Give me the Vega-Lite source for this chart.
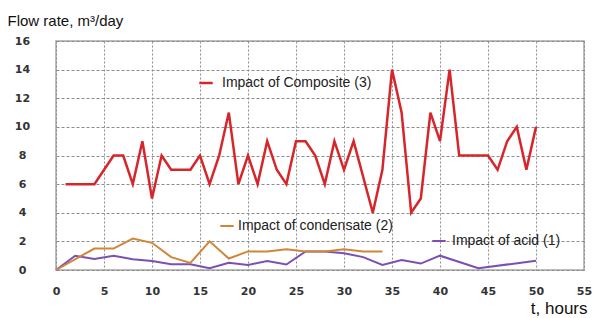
{
  "$schema": "https://vega.github.io/schema/vega-lite/v6.json",
  "width": 528,
  "height": 229,
  "autosize": {"type": "none"},
  "padding": {"left": 56, "top": 41, "right": 9, "bottom": 48},
  "background": "white",
  "config": {
    "view": {"stroke": "#a8a8a8", "strokeWidth": 1.5},
    "axis": {
      "domain": false,
      "ticks": false,
      "labelFlush": false,
      "labelFont": "DejaVu Sans",
      "labelFontWeight": "bold",
      "labelFontSize": 11,
      "labelColor": "#333333",
      "gridColor": "#8c8c8c",
      "gridWidth": 1
    }
  },
  "data": {
    "values": [
      {"series": "Impact of Composite (3)", "t": 1, "v": 6},
      {"series": "Impact of Composite (3)", "t": 4, "v": 6},
      {"series": "Impact of Composite (3)", "t": 6, "v": 8},
      {"series": "Impact of Composite (3)", "t": 7, "v": 8},
      {"series": "Impact of Composite (3)", "t": 8, "v": 6},
      {"series": "Impact of Composite (3)", "t": 9, "v": 9},
      {"series": "Impact of Composite (3)", "t": 10, "v": 5},
      {"series": "Impact of Composite (3)", "t": 11, "v": 8},
      {"series": "Impact of Composite (3)", "t": 12, "v": 7},
      {"series": "Impact of Composite (3)", "t": 14, "v": 7},
      {"series": "Impact of Composite (3)", "t": 15, "v": 8},
      {"series": "Impact of Composite (3)", "t": 16, "v": 6},
      {"series": "Impact of Composite (3)", "t": 17, "v": 8},
      {"series": "Impact of Composite (3)", "t": 18, "v": 11},
      {"series": "Impact of Composite (3)", "t": 19, "v": 6},
      {"series": "Impact of Composite (3)", "t": 20, "v": 8},
      {"series": "Impact of Composite (3)", "t": 21, "v": 6},
      {"series": "Impact of Composite (3)", "t": 22, "v": 9},
      {"series": "Impact of Composite (3)", "t": 23, "v": 7},
      {"series": "Impact of Composite (3)", "t": 24, "v": 6},
      {"series": "Impact of Composite (3)", "t": 25, "v": 9},
      {"series": "Impact of Composite (3)", "t": 26, "v": 9},
      {"series": "Impact of Composite (3)", "t": 27, "v": 8},
      {"series": "Impact of Composite (3)", "t": 28, "v": 6},
      {"series": "Impact of Composite (3)", "t": 29, "v": 9},
      {"series": "Impact of Composite (3)", "t": 30, "v": 7},
      {"series": "Impact of Composite (3)", "t": 31, "v": 9},
      {"series": "Impact of Composite (3)", "t": 33, "v": 4},
      {"series": "Impact of Composite (3)", "t": 34, "v": 7},
      {"series": "Impact of Composite (3)", "t": 35, "v": 14},
      {"series": "Impact of Composite (3)", "t": 36, "v": 11},
      {"series": "Impact of Composite (3)", "t": 37, "v": 4},
      {"series": "Impact of Composite (3)", "t": 38, "v": 5},
      {"series": "Impact of Composite (3)", "t": 39, "v": 11},
      {"series": "Impact of Composite (3)", "t": 40, "v": 9},
      {"series": "Impact of Composite (3)", "t": 41, "v": 14},
      {"series": "Impact of Composite (3)", "t": 42, "v": 8},
      {"series": "Impact of Composite (3)", "t": 45, "v": 8},
      {"series": "Impact of Composite (3)", "t": 46, "v": 7},
      {"series": "Impact of Composite (3)", "t": 47, "v": 9},
      {"series": "Impact of Composite (3)", "t": 48, "v": 10},
      {"series": "Impact of Composite (3)", "t": 49, "v": 7},
      {"series": "Impact of Composite (3)", "t": 50, "v": 10},
      {"series": "Impact of condensate (2)", "t": 0, "v": 0},
      {"series": "Impact of condensate (2)", "t": 4, "v": 1.5},
      {"series": "Impact of condensate (2)", "t": 6, "v": 1.5},
      {"series": "Impact of condensate (2)", "t": 8, "v": 2.2},
      {"series": "Impact of condensate (2)", "t": 10, "v": 1.9},
      {"series": "Impact of condensate (2)", "t": 12, "v": 0.9},
      {"series": "Impact of condensate (2)", "t": 14, "v": 0.5},
      {"series": "Impact of condensate (2)", "t": 16, "v": 2.0},
      {"series": "Impact of condensate (2)", "t": 18, "v": 0.8},
      {"series": "Impact of condensate (2)", "t": 20, "v": 1.3},
      {"series": "Impact of condensate (2)", "t": 22, "v": 1.3},
      {"series": "Impact of condensate (2)", "t": 24, "v": 1.45},
      {"series": "Impact of condensate (2)", "t": 26, "v": 1.3},
      {"series": "Impact of condensate (2)", "t": 28, "v": 1.3},
      {"series": "Impact of condensate (2)", "t": 30, "v": 1.45},
      {"series": "Impact of condensate (2)", "t": 32, "v": 1.3},
      {"series": "Impact of condensate (2)", "t": 34, "v": 1.3},
      {"series": "Impact of acid (1)", "t": 0, "v": 0},
      {"series": "Impact of acid (1)", "t": 2, "v": 1.0},
      {"series": "Impact of acid (1)", "t": 4, "v": 0.77},
      {"series": "Impact of acid (1)", "t": 6, "v": 1.0},
      {"series": "Impact of acid (1)", "t": 8, "v": 0.75},
      {"series": "Impact of acid (1)", "t": 10, "v": 0.63},
      {"series": "Impact of acid (1)", "t": 12, "v": 0.4},
      {"series": "Impact of acid (1)", "t": 14, "v": 0.4},
      {"series": "Impact of acid (1)", "t": 16, "v": 0.12},
      {"series": "Impact of acid (1)", "t": 18, "v": 0.5},
      {"series": "Impact of acid (1)", "t": 20, "v": 0.35},
      {"series": "Impact of acid (1)", "t": 22, "v": 0.63},
      {"series": "Impact of acid (1)", "t": 24, "v": 0.38},
      {"series": "Impact of acid (1)", "t": 26, "v": 1.3},
      {"series": "Impact of acid (1)", "t": 28, "v": 1.3},
      {"series": "Impact of acid (1)", "t": 30, "v": 1.17},
      {"series": "Impact of acid (1)", "t": 32, "v": 0.9},
      {"series": "Impact of acid (1)", "t": 34, "v": 0.35},
      {"series": "Impact of acid (1)", "t": 36, "v": 0.7},
      {"series": "Impact of acid (1)", "t": 38, "v": 0.45},
      {"series": "Impact of acid (1)", "t": 40, "v": 1.0},
      {"series": "Impact of acid (1)", "t": 44, "v": 0.12},
      {"series": "Impact of acid (1)", "t": 50, "v": 0.65}
    ]
  },
  "encoding": {
    "x": {
      "field": "t", "type": "quantitative",
      "scale": {"domain": [0, 55], "nice": false, "zero": false},
      "axis": {
        "values": [0, 5, 10, 15, 20, 25, 30, 35, 40, 45, 50, 55],
        "labelPadding": 15,
        "gridDash": [2, 2],
        "title": "t, hours",
        "titleFont": "Liberation Sans",
        "titleFontSize": 17,
        "titleFontWeight": "normal",
        "titleColor": "#111111",
        "titleAlign": "right",
        "titleBaseline": "alphabetic",
        "titleX": 531,
        "titleY": 43
      }
    },
    "y": {
      "field": "v", "type": "quantitative",
      "scale": {"domain": [0, 16], "nice": false},
      "axis": {
        "values": [0, 2, 4, 6, 8, 10, 12, 14, 16],
        "labelAlign": "center",
        "labelPadding": 34,
        "gridDash": [3, 2],
        "title": "Flow rate, m³/day",
        "titleFont": "Liberation Sans",
        "titleFontSize": 15,
        "titleFontWeight": "normal",
        "titleColor": "#111111",
        "titleAngle": 0,
        "titleAlign": "left",
        "titleBaseline": "alphabetic",
        "titleX": -49,
        "titleY": -16
      }
    }
  },
  "layer": [
    {
      "transform": [{"filter": "datum.series === 'Impact of acid (1)'"}],
      "mark": {"type": "line", "strokeWidth": 2},
      "encoding": {
        "color": {
          "field": "series", "type": "nominal",
          "scale": {"domain": ["Impact of acid (1)"], "range": ["#7b4fb3"]},
          "legend": {
            "orient": "none", "legendX": 375, "legendY": 192, "title": null,
            "symbolType": "stroke", "symbolStrokeWidth": 2, "symbolSize": 180,
            "labelFont": "Liberation Sans", "labelFontSize": 14, "labelColor": "#222222",
            "labelOffset": 5, "padding": 0
          }
        }
      }
    },
    {
      "transform": [{"filter": "datum.series === 'Impact of condensate (2)'"}],
      "mark": {"type": "line", "strokeWidth": 2},
      "encoding": {
        "color": {
          "field": "series", "type": "nominal",
          "scale": {"domain": ["Impact of condensate (2)"], "range": ["#cf8636"]},
          "legend": {
            "orient": "none", "legendX": 163, "legendY": 177, "title": null,
            "symbolType": "stroke", "symbolStrokeWidth": 2, "symbolSize": 180,
            "labelFont": "Liberation Sans", "labelFontSize": 14, "labelColor": "#222222",
            "labelOffset": 3, "padding": 0
          }
        }
      }
    },
    {
      "transform": [{"filter": "datum.series === 'Impact of Composite (3)'"}],
      "mark": {"type": "line", "strokeWidth": 2.5},
      "encoding": {
        "color": {
          "field": "series", "type": "nominal",
          "scale": {"domain": ["Impact of Composite (3)"], "range": ["#d7262b"]},
          "legend": {
            "orient": "none", "legendX": 142, "legendY": 34, "title": null,
            "symbolType": "stroke", "symbolStrokeWidth": 2.5, "symbolSize": 180,
            "labelFont": "Liberation Sans", "labelFontSize": 14, "labelColor": "#222222",
            "labelOffset": 8, "padding": 0
          }
        }
      }
    }
  ],
  "resolve": {"scale": {"color": "independent"}, "legend": {"color": "independent"}}
}
